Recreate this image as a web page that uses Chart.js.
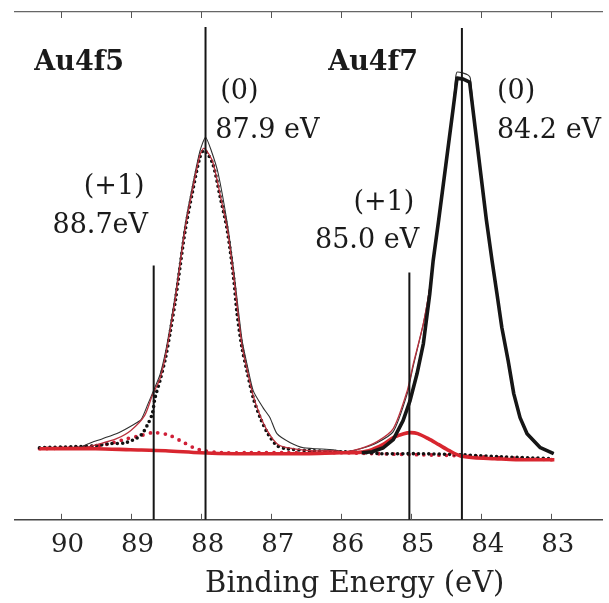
<!DOCTYPE html>
<html>
<head>
<meta charset="utf-8">
<script src="https://cdn.jsdelivr.net/npm/chart.js@4.4.1/dist/chart.umd.min.js"></script>
<style>
html,body{margin:0;padding:0;background:#fff;}
#wrap{width:609px;height:603px;}
</style>
</head>
<body>
<div id="wrap"><canvas id="c" width="609" height="603"></canvas></div>
<script>
// ---- data (binding energy in eV, intensity in arbitrary units) ----
const tickValues = [90, 89, 88, 87, 86, 85, 84, 83];
const xTitle = 'Binding Energy (eV)';

// thick red: baseline + Au4f7 (+1) component
const eBase = [90.3, 89.5, 89.0, 88.5, 88.0, 87.5, 87.0, 86.5, 86.0, 85.8, 85.6, 85.4, 85.25, 85.1, 85.0, 84.9, 84.75, 84.6, 84.45, 84.3, 84.1, 83.8, 83.5, 82.95];
const iBase = [71, 71, 70, 69, 67, 66, 66, 66, 67, 67, 69, 75, 82, 86, 87, 86, 81, 75, 69, 64, 62, 61, 60, 60];

// thick black: Au4f7 (0) component
const eMain = [85.70, 85.55, 85.39, 85.25, 85.11, 85.01, 84.91, 84.82, 84.73, 84.68, 84.60, 84.50, 84.40, 84.34, 84.25, 84.16, 84.08, 84.00, 83.92, 83.84, 83.77, 83.70, 83.61, 83.53, 83.44, 83.34, 83.15, 82.96];
const iMain = [67, 68, 72, 80, 99, 119, 146, 176, 225, 259, 300, 354, 408, 441, 440, 437, 391, 345, 299, 259, 226, 192, 159, 126, 102, 86, 72, 66];

// thin black: measured spectrum
const eData = [90.3, 89.9, 89.7, 89.6, 89.4, 89.17, 88.96, 88.85, 88.75, 88.69, 88.58, 88.50, 88.43, 88.36, 88.22, 88.12, 88.01, 87.93, 87.85, 87.75, 87.62, 87.53, 87.41, 87.34, 87.25, 87.11, 87.01, 86.91, 86.72, 86.53, 86.11, 85.94, 85.72, 85.48, 85.25, 85.05, 84.97, 84.82, 84.72, 84.60, 84.50, 84.40, 84.36, 84.34, 84.25, 84.18, 84.15, 84.08, 84.00, 83.92, 83.84, 83.77, 83.70, 83.61, 83.53, 83.44, 83.34, 83.15, 82.96];
const iData = [72, 72, 73, 76, 81, 87, 95, 100, 116, 126, 145, 168, 195, 225, 295, 332, 368, 382, 369, 346, 296, 250, 180, 156, 129, 112, 102, 86, 77, 72, 70, 68, 71, 77, 88, 126, 152, 196, 236, 300, 354, 408, 441, 447, 446, 444, 441, 391, 345, 299, 259, 226, 192, 159, 126, 102, 86, 72, 66];

// thin red: fitted envelope
const eEnv = [90.3, 89.67, 89.43, 89.2, 89.0, 88.8, 88.69, 88.58, 88.50, 88.43, 88.36, 88.22, 88.12, 88.01, 87.95, 87.83, 87.72, 87.62, 87.53, 87.41, 87.34, 87.25, 87.15, 87.04, 86.91, 86.77, 86.44, 86.11, 85.94, 85.72, 85.48, 85.25, 85.05, 84.97, 84.82, 84.72, 84.68];
const iEnv = [72, 72, 76, 81, 89, 104, 124, 141, 164, 191, 221, 291, 328, 364, 371, 358, 324, 291, 244, 174, 151, 124, 104, 88, 76, 72, 69, 69, 68, 71, 78, 91, 129, 154, 196, 236, 262];

// black dotted: Au4f5 (0) component
const eDot = [90.3, 89.8, 89.5, 89.3, 89.07, 88.86, 88.75, 88.69, 88.65, 88.58, 88.50, 88.43, 88.36, 88.32, 88.22, 88.12, 88.01, 87.95, 87.83, 87.72, 87.62, 87.53, 87.48, 87.41, 87.34, 87.25, 87.15, 87.04, 86.91, 86.77, 86.44, 86.01, 85.62, 85.44, 84.87, 84.30, 83.73, 82.97];
const iDot = [72, 73, 74, 76, 77, 84, 96, 106, 122, 139, 162, 189, 219, 239, 289, 326, 362, 369, 356, 322, 289, 242, 206, 172, 149, 122, 102, 86, 74, 71, 69, 68, 67, 66, 66, 65, 63, 61];

// red dotted: Au4f5 (+1) component
const eRdot = [90.3, 89.8, 89.6, 89.43, 89.25, 89.05, 88.86, 88.68, 88.47, 88.29, 88.10, 87.96, 87.7, 87.3, 86.8, 86.0, 85.5, 84.9, 84.3, 83.7, 82.97];
const iRdot = [71, 72, 73, 74, 77, 81, 84, 87, 85, 79, 72, 69, 67, 67, 67, 67, 66, 65, 64, 62, 60];

// vertical marker lines
const markerE = [88.67, 87.93, 85.02, 84.27];
const markerTop = [254, 492, 247, 491];

// ---- build ----
const pts = (xs, ys) => xs.map((x, k) => ({x: x, y: ys[k]}));
const SERIF = "'DejaVu Serif', 'Liberation Serif', serif";

const datasets = [];
markerE.forEach((e, k) => {
  datasets.push({data: [{x: e, y: 0}, {x: e, y: markerTop[k]}], borderColor: '#151515', borderWidth: 2, pointRadius: 0, tension: 0});
});
datasets.push({data: pts(eMain, iMain), borderColor: '#161616', borderWidth: 3.6, pointRadius: 0, tension: 0, borderJoinStyle: 'round'});
datasets.push({data: pts(eBase, iBase), borderColor: '#d8262f', borderWidth: 3.6, pointRadius: 0, tension: 0.3});
datasets.push({data: pts(eEnv, iEnv), borderColor: '#b8303c', borderWidth: 1.3, pointRadius: 0, tension: 0.25});
datasets.push({data: pts(eData, iData), borderColor: '#303030', borderWidth: 1.1, pointRadius: 0, tension: 0.2});
datasets.push({data: pts(eDot, iDot), borderColor: '#111', borderWidth: 3.6, borderDash: [0, 5.2], borderCapStyle: 'round', pointRadius: 0, tension: 0.3});
datasets.push({data: pts(eRdot, iRdot), borderColor: '#cf2038', borderWidth: 3.8, borderDash: [0, 7.5], borderCapStyle: 'round', pointRadius: 0, tension: 0.3});

const notes = [
  {t: 'Au4f5', e: 90.374, i: 449, bold: true, align: 'left'},
  {t: 'Au4f7', e: 86.178, i: 449, bold: true, align: 'left'},
  {t: '(0)', e: 87.72, i: 420, align: 'left'},
  {t: '87.9 eV', e: 87.79, i: 381, align: 'left'},
  {t: '(+1)', e: 88.80, i: 325, align: 'right'},
  {t: '88.7eV', e: 88.75, i: 286, align: 'right'},
  {t: '(0)', e: 83.77, i: 420, align: 'left'},
  {t: '84.2 eV', e: 83.77, i: 381, align: 'left'},
  {t: '(+1)', e: 84.95, i: 309, align: 'right'},
  {t: '85.0 eV', e: 84.88, i: 271, align: 'right'}
];

const decor = {
  id: 'decor',
  beforeDraw(chart) {
    const ctx = chart.ctx;
    ctx.save();
    ctx.fillStyle = '#fff';
    ctx.fillRect(0, 0, chart.width, chart.height);
    ctx.restore();
  },
  afterDraw(chart) {
    const ctx = chart.ctx, xs = chart.scales.x, ys = chart.scales.y, a = chart.chartArea;
    ctx.save();
    ctx.strokeStyle = '#555';
    ctx.lineWidth = 1;
    xs.ticks.forEach(t => {
      const p = Math.round(xs.getPixelForValue(t.value)) + 0.5;
      ctx.beginPath();
      ctx.moveTo(p, a.bottom); ctx.lineTo(p, a.bottom - 6);
      ctx.moveTo(p, a.top); ctx.lineTo(p, a.top + 6);
      ctx.stroke();
    });
    ctx.fillStyle = '#1a1a1a';
    ctx.textBaseline = 'alphabetic';
    notes.forEach(n => {
      ctx.font = (n.bold ? 'bold ' : '') + '27px ' + SERIF;
      ctx.textAlign = n.align;
      ctx.fillText(n.t, xs.getPixelForValue(n.e), ys.getPixelForValue(n.i));
    });
    // axis title (sits right of the axis centre, as in the original figure)
    ctx.fillStyle = '#222';
    ctx.font = '29px ' + SERIF;
    ctx.textAlign = 'center';
    ctx.fillText(xTitle, xs.getPixelForValue(85.8), a.bottom + 72);
    ctx.restore();
  }
};

new Chart(document.getElementById('c'), {
  type: 'line',
  data: {datasets: datasets},
  plugins: [decor],
  options: {
    responsive: false,
    animation: false,
    events: [],
    layout: {padding: {left: 15, right: 7, top: 12, bottom: 32}},
    plugins: {legend: {display: false}, tooltip: {enabled: false}},
    scales: {
      x: {
        type: 'linear', position: 'bottom', reverse: true, min: 82.27, max: 90.65,
        afterBuildTicks: s => { s.ticks = tickValues.map(v => ({value: v})); },
        grid: {display: false, drawTicks: false},
        border: {display: true, color: '#444', width: 1.4},
        ticks: {padding: 10, labelOffset: 7, color: '#222', font: {family: SERIF, size: 26}, maxRotation: 0, callback: v => String(v)},
        title: {display: false}
      },
      x2: {
        type: 'linear', position: 'top', reverse: true, min: 82.27, max: 90.65,
        grid: {display: false, drawTicks: false},
        border: {display: true, color: '#666', width: 1.2},
        ticks: {display: false}
      },
      y: {type: 'linear', display: false, min: 0, max: 507}
    }
  }
});
</script>
</body>
</html>
